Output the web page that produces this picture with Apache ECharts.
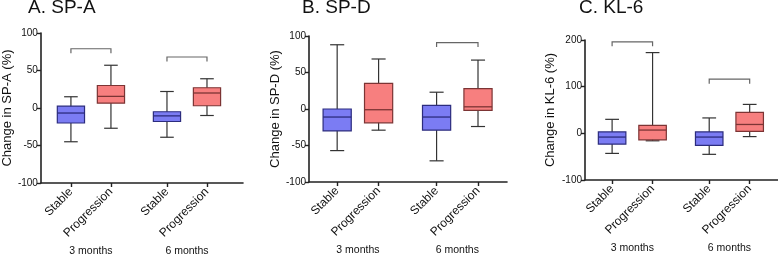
<!DOCTYPE html>
<html>
<head>
<meta charset="utf-8">
<script src="https://cdn.jsdelivr.net/npm/echarts@6/dist/echarts.min.js"></script>
<style>
html, body { margin: 0; padding: 0; background: #fff; }
#chart { width: 778px; height: 256px; }
</style>
</head>
<body>
<div id="chart"></div>
<script>
// categories and where they sit on the (value) x axis
const categories = ['Stable', 'Progression', 'Stable', 'Progression'];
const xPos = [1, 2, 3.4, 4.4];
const groupNames = ['3 months', '6 months'];
const groupPos = [1.5, 3.9];
const kinds = [0, 1, 0, 1]; // 0 = stable (blue), 1 = progression (red)

// box stats: [min, Q1, median, Q3, max]
const spaStats = [
	[-45, -20, -6.7, 2.5, 15],
	[-27, 6.5, 15.5, 30, 57],
	[-39, -18, -10.5, -5, 22],
	[-10, 3, 20, 27, 39]
];
const spdStats = [
	[-57, -30, -11, 0, 88],
	[-29, -19, -1, 35, 68.5],
	[-71, -29, -11, 5, 23],
	[-24, -2, 3, 28, 67]
];
const klStats = [
	[-43, -23, -8, 3, 30],
	[-16, -14, 7, 17, 173],
	[-45, -26, -8, 3, 33],
	[-7, 4, 19, 45, 62]
];

// brackets: [x from, x to, y level]
const spaBrackets = [[1, 2, 79], [3.4, 4.4, 68]];
const spdBrackets = [[3.4, 4.4, 91]];
const klBrackets = [[1, 2, 196], [3.4, 4.4, 116]];

const panelTitles = ['A. SP-A', 'B. SP-D', 'C. KL-6'];
const yNames = ['Change in SP-A (%)', 'Change in SP-D (%)', 'Change in KL-6 (%)'];

const fills = ['#7b7cf3', '#f77f7f'];
const borders = ['#2c2c7e', '#7c3434'];
const boxW = 0.68;

function boxRows(stats) {
	return stats.map((s, i) => [xPos[i]].concat(s).concat([kinds[i]]));
}

function renderBox(params, api) {
	const x = api.value(0);
	const k = api.value(6);
	const pLo = api.coord([x, api.value(1)]);
	const pQ1 = api.coord([x, api.value(2)]);
	const pMed = api.coord([x, api.value(3)]);
	const pQ3 = api.coord([x, api.value(4)]);
	const pHi = api.coord([x, api.value(5)]);
	const w = api.size([boxW, 0])[0];
	const cx = pLo[0];
	const wl = { stroke: '#333', lineWidth: 1.2 };
	return {
		type: 'group',
		children: [
			{ type: 'line', shape: { x1: cx, y1: pLo[1], x2: cx, y2: pHi[1] }, style: wl },
			{ type: 'line', shape: { x1: cx - w / 4, y1: pLo[1], x2: cx + w / 4, y2: pLo[1] }, style: wl },
			{ type: 'line', shape: { x1: cx - w / 4, y1: pHi[1], x2: cx + w / 4, y2: pHi[1] }, style: wl },
			{
				type: 'rect',
				shape: { x: cx - w / 2, y: pQ3[1], width: w, height: pQ1[1] - pQ3[1] },
				style: { fill: fills[k], stroke: borders[k], lineWidth: 1.2 }
			},
			{ type: 'line', shape: { x1: cx - w / 2, y1: pMed[1], x2: cx + w / 2, y2: pMed[1] }, style: { stroke: borders[k], lineWidth: 1.3 } }
		]
	};
}

function renderBracket(params, api) {
	const a = api.coord([api.value(0), api.value(2)]);
	const b = api.coord([api.value(1), api.value(2)]);
	const t = 4.5;
	return {
		type: 'polyline',
		shape: { points: [[a[0], a[1] + t], [a[0], a[1]], [b[0], b[1]], [b[0], b[1] + t]] },
		style: { stroke: '#666', lineWidth: 1.2, fill: null }
	};
}

function renderGroup(params, api) {
	const p = api.coord([api.value(0), api.value(1)]);
	return {
		type: 'text',
		style: {
			text: groupNames[params.dataIndex],
			x: p[0], y: p[1] + 68,
			align: 'center', verticalAlign: 'middle',
			fontSize: 10.5, fill: '#111', fontFamily: 'Liberation Sans'
		}
	};
}

const grids = [
	{ left: 36, top: 33, width: 207, height: 150 },
	{ left: 309, top: 36, width: 198, height: 146 },
	{ left: 585, top: 40, width: 193, height: 140 }
];
const xRanges = [[0.25, 5.3], [0.32, 5.1], [0.33, 5.1]];
const yRanges = [[-100, 100, 50], [-100, 100, 50], [-100, 200, 100]];
const nameGaps = [23, 27, 28];
const titlePos = [28, 302, 579];

const allStats = [spaStats, spdStats, klStats];
const allBrackets = [spaBrackets, spdBrackets, klBrackets];

let option = {
	backgroundColor: '#fff',
	animation: false,
	textStyle: { fontFamily: 'Liberation Sans' },
	title: panelTitles.map((t, i) => ({
		text: t,
		left: titlePos[i],
		top: -2,
		padding: 0,
		textStyle: { fontSize: 19, fontWeight: 'normal', color: '#111', fontFamily: 'Liberation Sans' }
	})),
	grid: grids,
	xAxis: grids.map((g, i) => ({
		type: 'value',
		gridIndex: i,
		min: xRanges[i][0],
		max: xRanges[i][1],
		splitLine: { show: false },
		axisLine: { onZero: false, lineStyle: { color: '#222', width: 1.6 } },
		axisTick: { show: true, length: 4, customValues: xPos, lineStyle: { color: '#222', width: 1.4 } },
		axisLabel: {
			customValues: xPos,
			rotate: 45,
			margin: 7,
			fontSize: 12,
			color: '#111',
			formatter: v => {
				const idx = xPos.findIndex(p => Math.abs(p - v) < 1e-6);
				return idx >= 0 ? categories[idx] : '';
			}
		}
	})),
	yAxis: grids.map((g, i) => ({
		type: 'value',
		gridIndex: i,
		min: yRanges[i][0],
		max: yRanges[i][1],
		interval: yRanges[i][2],
		name: yNames[i],
		nameLocation: 'middle',
		nameRotate: 90,
		nameGap: nameGaps[i],
		nameTextStyle: { fontSize: 13, color: '#111' },
		splitLine: { show: false },
		axisLine: { show: true, onZero: false, lineStyle: { color: '#222', width: 1.6 } },
		axisTick: { show: true, length: 4, lineStyle: { color: '#222', width: 1.4 } },
		axisLabel: { fontSize: 10, color: '#111', margin: 3 }
	})),
	series: []
};

for (let i = 0; i < 3; i++) {
	option.series.push({
		type: 'custom',
		xAxisIndex: i,
		yAxisIndex: i,
		renderItem: renderBox,
		encode: { x: 0, y: [1, 2, 3, 4, 5] },
		data: boxRows(allStats[i])
	});
	option.series.push({
		type: 'custom',
		xAxisIndex: i,
		yAxisIndex: i,
		renderItem: renderBracket,
		encode: { x: [0, 1], y: 2 },
		data: allBrackets[i]
	});
	option.series.push({
		type: 'custom',
		xAxisIndex: i,
		yAxisIndex: i,
		renderItem: renderGroup,
		encode: { x: 0, y: 1 },
		data: groupPos.map(p => [p, yRanges[i][0]])
	});
}

let myChart = echarts.init(document.getElementById('chart'));
myChart.setOption(option);
</script>
</body>
</html>
